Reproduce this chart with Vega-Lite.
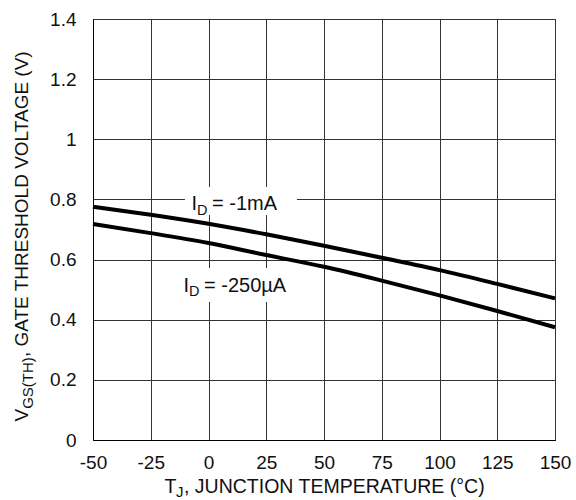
{
  "$schema": "https://vega.github.io/schema/vega-lite/v6.json",
  "width": 462,
  "height": 421,
  "autosize": {"type": "none"},
  "padding": {"left": 93, "top": 19, "right": 21, "bottom": 60},
  "background": "white",
  "config": {
    "view": {"stroke": "#000000", "strokeWidth": 1},
    "font": "Liberation Sans",
    "text": {"font": "Liberation Sans", "color": "#111111", "align": "left", "baseline": "alphabetic"}
  },
  "datasets": {
    "curves": [
      {"t": -50, "v": 0.776, "id": "-1mA"},
      {"t": -25, "v": 0.749, "id": "-1mA"},
      {"t": 0, "v": 0.719, "id": "-1mA"},
      {"t": 25, "v": 0.684, "id": "-1mA"},
      {"t": 50, "v": 0.646, "id": "-1mA"},
      {"t": 75, "v": 0.606, "id": "-1mA"},
      {"t": 100, "v": 0.565, "id": "-1mA"},
      {"t": 125, "v": 0.519, "id": "-1mA"},
      {"t": 150, "v": 0.471, "id": "-1mA"},
      {"t": -50, "v": 0.718, "id": "-250uA"},
      {"t": -25, "v": 0.688, "id": "-250uA"},
      {"t": 0, "v": 0.655, "id": "-250uA"},
      {"t": 25, "v": 0.615, "id": "-250uA"},
      {"t": 50, "v": 0.576, "id": "-250uA"},
      {"t": 75, "v": 0.530, "id": "-250uA"},
      {"t": 100, "v": 0.481, "id": "-250uA"},
      {"t": 125, "v": 0.429, "id": "-250uA"},
      {"t": 150, "v": 0.375, "id": "-250uA"}
    ]
  },
  "layer": [
    {
      "data": {"values": [{}]},
      "mark": {"type": "rect", "color": "#ffffff"},
      "encoding": {
        "x": {"datum": -10.2, "type": "quantitative"},
        "x2": {"datum": 38.3},
        "y": {"datum": 0.748, "type": "quantitative"},
        "y2": {"datum": 0.841}
      }
    },
    {
      "data": {"values": [{}]},
      "mark": {"type": "rect", "color": "#ffffff"},
      "encoding": {
        "x": {"datum": -12.3, "type": "quantitative"},
        "x2": {"datum": 37.4},
        "y": {"datum": 0.459, "type": "quantitative"},
        "y2": {"datum": 0.572}
      }
    },
    {
      "data": {"name": "curves"},
      "mark": {"type": "line", "strokeWidth": 4, "color": "#000000", "interpolate": "monotone"},
      "encoding": {
        "x": {
          "field": "t", "type": "quantitative",
          "scale": {"domain": [-50, 150], "nice": false, "zero": false},
          "axis": {
            "values": [-50, -25, 0, 25, 50, 75, 100, 125, 150],
            "labelExpr": "'' + datum.value",
            "grid": true, "gridColor": "#333333", "gridWidth": 1,
            "ticks": false, "domain": true, "domainColor": "#000000",
            "labelFontSize": 19, "labelColor": "#111111", "labelPadding": 13,
            "labelFlush": false, "labelOverlap": false,
            "title": null, "zindex": 0
          }
        },
        "y": {
          "field": "v", "type": "quantitative",
          "scale": {"domain": [0, 1.4], "nice": false},
          "axis": {
            "values": [0, 0.2, 0.4, 0.6, 0.8, 1, 1.2, 1.4],
            "labelExpr": "'' + datum.value",
            "grid": true, "gridColor": "#333333", "gridWidth": 1,
            "ticks": false, "domain": true, "domainColor": "#000000",
            "labelFontSize": 19, "labelColor": "#111111", "labelPadding": 17,
            "labelFlush": false, "labelOverlap": false,
            "title": null, "zindex": 0
          }
        },
        "detail": {"field": "id"}
      }
    },
    {
      "data": {"values": [{}]},
      "mark": {"type": "text", "text": "I", "fontSize": 20},
      "encoding": {
        "x": {"datum": -7.36, "type": "quantitative"},
        "y": {"datum": 0.7632, "type": "quantitative"}
      }
    },
    {
      "data": {"values": [{}]},
      "mark": {"type": "text", "text": "D", "fontSize": 14.5},
      "encoding": {
        "x": {"datum": -4.98, "type": "quantitative"},
        "y": {"datum": 0.7483, "type": "quantitative"}
      }
    },
    {
      "data": {"values": [{}]},
      "mark": {"type": "text", "text": "= -1mA", "fontSize": 20},
      "encoding": {
        "x": {"datum": 1.52, "type": "quantitative"},
        "y": {"datum": 0.7632, "type": "quantitative"}
      }
    },
    {
      "data": {"values": [{}]},
      "mark": {"type": "text", "text": "I", "fontSize": 20},
      "encoding": {
        "x": {"datum": -10.82, "type": "quantitative"},
        "y": {"datum": 0.4932, "type": "quantitative"}
      }
    },
    {
      "data": {"values": [{}]},
      "mark": {"type": "text", "text": "D", "fontSize": 14.5},
      "encoding": {
        "x": {"datum": -8.44, "type": "quantitative"},
        "y": {"datum": 0.4789, "type": "quantitative"}
      }
    },
    {
      "data": {"values": [{}]},
      "mark": {"type": "text", "text": "= -250µA", "fontSize": 20},
      "encoding": {
        "x": {"datum": -1.95, "type": "quantitative"},
        "y": {"datum": 0.4932, "type": "quantitative"}
      }
    },
    {
      "data": {"values": [{}]},
      "mark": {"type": "text", "text": "T", "fontSize": 19.5},
      "encoding": {
        "x": {"datum": -19.0, "type": "quantitative"},
        "y": {"datum": -0.1763, "type": "quantitative"}
      }
    },
    {
      "data": {"values": [{}]},
      "mark": {"type": "text", "text": "J", "fontSize": 15},
      "encoding": {
        "x": {"datum": -14.03, "type": "quantitative"},
        "y": {"datum": -0.1912, "type": "quantitative"}
      }
    },
    {
      "data": {"values": [{}]},
      "mark": {"type": "text", "text": ", JUNCTION TEMPERATURE (°C)", "fontSize": 19.5},
      "encoding": {
        "x": {"datum": -10.61, "type": "quantitative"},
        "y": {"datum": -0.1763, "type": "quantitative"}
      }
    },
    {
      "data": {"values": [{}]},
      "mark": {"type": "text", "text": "V", "fontSize": 19, "angle": 270},
      "encoding": {
        "x": {"datum": -78.0, "type": "quantitative"},
        "y": {"datum": 0.0615, "type": "quantitative"}
      }
    },
    {
      "data": {"values": [{}]},
      "mark": {"type": "text", "text": "GS(TH)", "fontSize": 15, "angle": 270},
      "encoding": {
        "x": {"datum": -75.97, "type": "quantitative"},
        "y": {"datum": 0.1037, "type": "quantitative"}
      }
    },
    {
      "data": {"values": [{}]},
      "mark": {"type": "text", "text": ", GATE THRESHOLD VOLTAGE (V)", "fontSize": 19, "angle": 270},
      "encoding": {
        "x": {"datum": -78.0, "type": "quantitative"},
        "y": {"datum": 0.2756, "type": "quantitative"}
      }
    }
  ]
}
